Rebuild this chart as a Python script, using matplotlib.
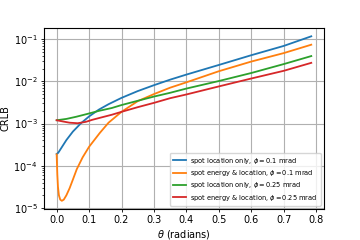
import numpy as np
import matplotlib
matplotlib.use('Agg')
import matplotlib.pyplot as plt

# values
theta_blue = [0, 0.005, 0.015, 0.03, 0.05, 0.075, 0.1, 0.13, 0.16, 0.2, 0.25,
              0.3, 0.35, 0.4, 0.5, 0.6, 0.7, 0.785]
crlb_blue = [1.9e-4, 2.04e-4, 2.69e-4, 4.07e-4, 6.46e-4, 1.02e-3, 1.48e-3,
             2.14e-3, 2.88e-3, 4.07e-3, 5.89e-3, 8.13e-3, 1.10e-2, 1.45e-2,
             2.45e-2, 4.17e-2, 6.92e-2, 0.117]

theta_orange = [0, 0.002, 0.004, 0.007, 0.011, 0.016, 0.022, 0.03, 0.04, 0.05,
                0.062, 0.08, 0.1, 0.133, 0.16, 0.2, 0.25, 0.3, 0.35, 0.4, 0.5,
                0.6, 0.7, 0.785]
crlb_orange = [1.86e-4, 6.3e-5, 3.2e-5, 2.0e-5, 1.58e-5, 1.48e-5, 1.58e-5,
               2.0e-5, 2.95e-5, 4.7e-5, 8.3e-5, 1.58e-4, 2.82e-4, 6.0e-4,
               1.05e-3, 1.9e-3, 3.4e-3, 5.0e-3, 7.1e-3, 9.5e-3, 1.74e-2,
               2.95e-2, 4.68e-2, 0.074]

theta_green = [0, 0.03, 0.06, 0.09, 0.13, 0.17, 0.2, 0.25, 0.3, 0.35, 0.4, 0.5,
               0.6, 0.7, 0.785]
crlb_green = [1.2e-3, 1.29e-3, 1.45e-3, 1.66e-3, 2.0e-3, 2.34e-3, 2.75e-3,
              3.47e-3, 4.37e-3, 5.37e-3, 6.76e-3, 1.02e-2, 1.58e-2, 2.57e-2,
              3.98e-2]

theta_red = [0, 0.02, 0.04, 0.065, 0.09, 0.11, 0.13, 0.17, 0.2, 0.25, 0.3, 0.35,
             0.4, 0.5, 0.6, 0.7, 0.785]
crlb_red = [1.2e-3, 1.12e-3, 1.05e-3, 1.02e-3, 1.1e-3, 1.23e-3, 1.35e-3,
            1.62e-3, 1.9e-3, 2.45e-3, 3.1e-3, 4.0e-3, 4.9e-3, 7.6e-3, 1.17e-2,
            1.78e-2, 2.75e-2]

labels = ['spot location only, $\\phi = 0.1$ mrad',
          'spot energy & location, $\\phi = 0.1$ mrad',
          'spot location only, $\\phi = 0.25$ mrad',
          'spot energy & location, $\\phi = 0.25$ mrad']

fig = plt.figure(figsize=(3.6, 2.4), dpi=100)
ax = fig.add_axes([0.122, 0.129, 0.778, 0.754])

lw = 1.3
ax.plot(theta_blue, crlb_blue, color='tab:blue', lw=lw, label=labels[0])
ax.plot(theta_orange, crlb_orange, color='tab:orange', lw=lw, label=labels[1])
ax.plot(theta_green, crlb_green, color='tab:green', lw=lw, label=labels[2])
ax.plot(theta_red, crlb_red, color='tab:red', lw=lw, label=labels[3])

ax.set_yscale('log')
ax.grid(True, color='#b0b0b0', lw=0.8)
ax.set_xticks([0.0, 0.1, 0.2, 0.3, 0.4, 0.5, 0.6, 0.7, 0.8])
ax.tick_params(labelsize=7, length=2.5, width=0.6, pad=2)
ax.tick_params(which='minor', length=1.5, width=0.5)
for s in ax.spines.values():
    s.set_linewidth(0.8)

ax.set_xlabel('$\\theta$ (radians)', fontsize=7, labelpad=2)
ax.set_ylabel('CRLB', fontsize=7, labelpad=2)

ax.legend(loc='lower right', fontsize=4.8, handlelength=2.0, borderpad=0.45,
          labelspacing=0.35, handletextpad=0.6)

fig.savefig('out.png', dpi=100)
